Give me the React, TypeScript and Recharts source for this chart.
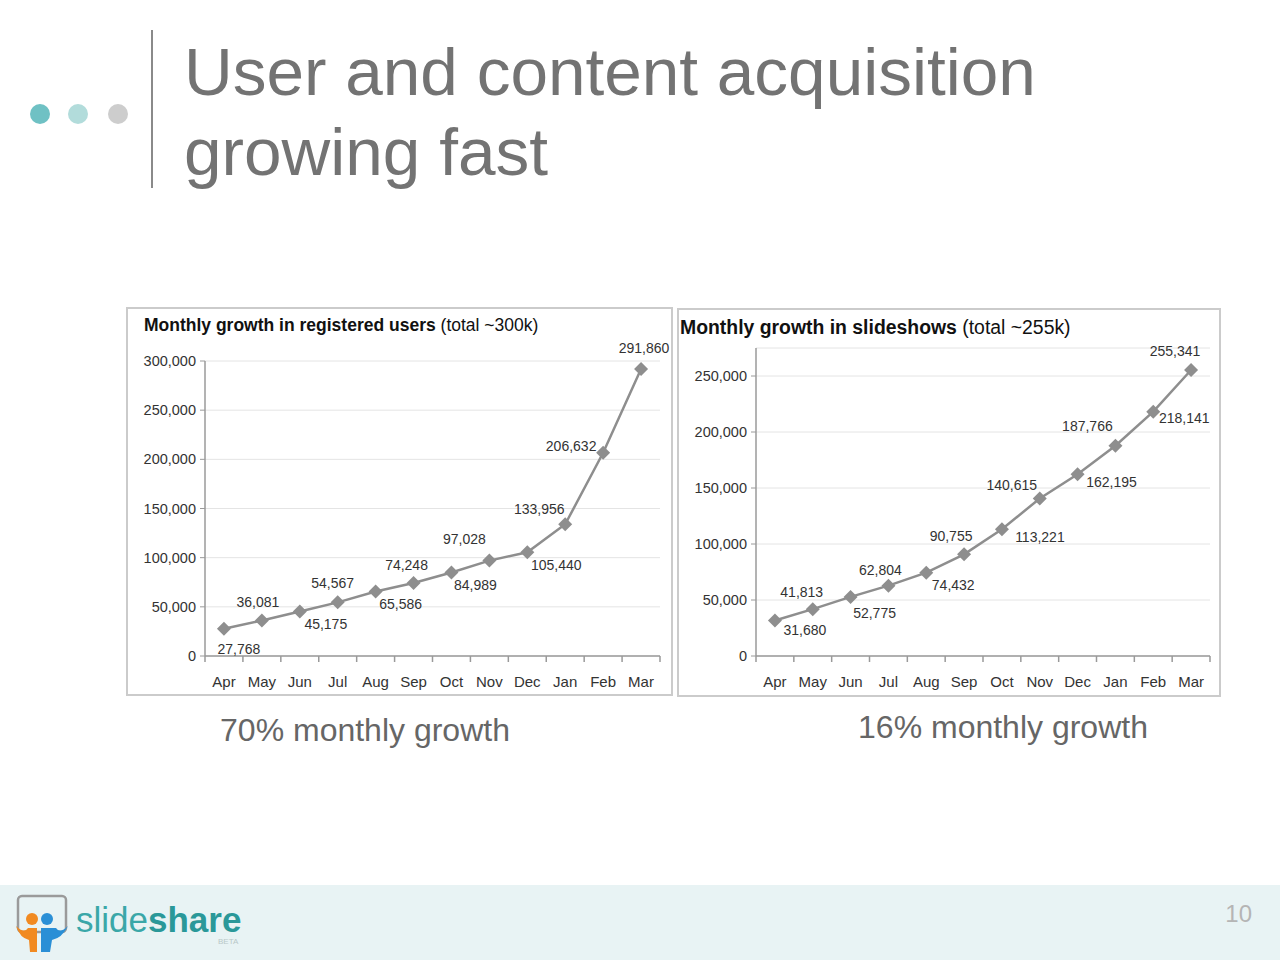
import React from 'react'
import { LineChart, Line, XAxis, YAxis, CartesianGrid, LabelList } from 'recharts'

const months = ['Apr', 'May', 'Jun', 'Jul', 'Aug', 'Sep', 'Oct', 'Nov', 'Dec', 'Jan', 'Feb', 'Mar']
const userGrowth = [27768, 36081, 45175, 54567, 65586, 74248, 84989, 97028, 105440, 133956, 206632, 291860]
const slideGrowth = [31680, 41813, 52775, 62804, 74432, 90755, 113221, 140615, 162195, 187766, 218141, 255341]
const userTicks = [0, 50000, 100000, 150000, 200000, 250000, 300000]
const slideTicks = [0, 50000, 100000, 150000, 200000, 250000]

// label placement relative to each point (dx, dy)
const userLabelOffsets = [[15, 20], [-4, -19], [26, 12], [-5, -19], [25, 12], [-7, -18], [24, 13], [-25, -22], [29, 13], [-26, -15], [-32, -7], [3, -21]]
const slideLabelOffsets = [[30, 9], [-11, -17], [24, 16], [-8, -16], [27, 12], [-13, -18], [38, 8], [-28, -14], [34, 8], [-28, -20], [31, 6], [-16, -19]]

const usersData = months.map((m, i) => ({ month: m, value: userGrowth[i] }))
const slidesData = months.map((m, i) => ({ month: m, value: slideGrowth[i] }))

const FONT = '"Liberation Sans", Arial, sans-serif'
const LINE = '#8e8e8e'
const AXIS = '#9a9a9a'
const fmt = (v: number) => v.toLocaleString('en-US')

const Diamond = (props: any) => {
  const { cx, cy } = props
  if (cx == null || cy == null) return null
  const r = 7
  return <path d={`M${cx},${cy - r}L${cx + r},${cy}L${cx},${cy + r}L${cx - r},${cy}Z`} fill={LINE} />
}

const makeTick = (bw: number) => (props: any) => {
  const { x, y, payload, index } = props
  return (
    <g>
      <line x1={x - bw / 2} x2={x - bw / 2} y1={y} y2={y + 6} stroke={AXIS} strokeWidth={1.5} />
      {index === months.length - 1 && (
        <line x1={x + bw / 2} x2={x + bw / 2} y1={y} y2={y + 6} stroke={AXIS} strokeWidth={1.5} />
      )}
      <text x={x} y={y + 25} textAnchor="middle" dominantBaseline="central" fontSize={15} fill="#333" fontFamily={FONT}>
        {payload.value}
      </text>
    </g>
  )
}

const makeLabel = (offsets: number[][]) => (props: any) => {
  const { x, y, value, index } = props
  const [dx, dy] = offsets[index] || [0, -15]
  return (
    <text x={x + dx} y={y + dy} textAnchor="middle" dominantBaseline="central" fontSize={14} fill="#333" fontFamily={FONT}>
      {fmt(value)}
    </text>
  )
}

const GrowthChart: React.FC<{
  data: { month: string; value: number }[]
  width: number; height: number
  yWidth: number; top: number; right: number; bottom: number
  domainMax: number; ticks: number[]; offsets: number[][]
}> = ({ data, width, height, yWidth, top, right, bottom, domainMax, ticks, offsets }) => {
  const bw = (width - yWidth - right) / months.length
  return (
    <LineChart width={width} height={height} data={data} margin={{ top, right, bottom: 0, left: 0 }}
      style={{ overflow: 'visible' }}>
      <CartesianGrid vertical={false} stroke="#e4e4e4" />
      <XAxis dataKey="month" height={bottom} tickSize={0} tickMargin={0} tickLine={false}
        padding={{ left: bw / 2, right: bw / 2 }}
        axisLine={{ stroke: AXIS, strokeWidth: 1.5 }} tick={makeTick(bw)} interval={0} />
      <YAxis width={yWidth} domain={[0, domainMax]} ticks={ticks} tickFormatter={fmt} tickSize={5} tickMargin={4}
        axisLine={{ stroke: AXIS, strokeWidth: 1.5 }} tickLine={{ stroke: AXIS }}
        tick={{ fontSize: 14.5, fill: '#333', fontFamily: FONT }} allowDataOverflow />
      <Line dataKey="value" stroke={LINE} strokeWidth={2.5} dot={<Diamond />} activeDot={false} isAnimationActive={false}>
        <LabelList dataKey="value" content={makeLabel(offsets)} />
      </Line>
    </LineChart>
  )
}

const Logo = () => (
  <g>
    <rect x={18} y={896} width={48} height={36} rx={4} fill="none" stroke="#9a9a9a" strokeWidth={2.5} />
    <circle cx={32} cy={919} r={6} fill="#f18a21" />
    <circle cx={47} cy={919} r={6} fill="#2a8fd6" />
    <path d="M16,926 Q24,934 28,928 L37,928 L37,952 L30,952 L29,940 Q20,938 16,926 Z" fill="#f18a21" />
    <path d="M68,926 Q60,934 56,928 L41,928 L41,952 L50,952 L52,940 Q62,938 68,926 Z" fill="#2a8fd6" />
    <text x={76} y={932} fontSize={35} fontFamily={FONT} fill="#3aa7a8">
      slide<tspan fontWeight="bold" fill="#2a9899">share</tspan>
    </text>
    <text x={218} y={944} fontSize={8} fontFamily={FONT} fill="#b8c8c8">BETA</text>
  </g>
)

export default function App() {
  return (
    <div style={{ position: 'absolute', left: 0, top: 0, width: 1280, height: 960, background: '#fff', fontFamily: FONT }}>
      <svg width={1280} height={960} style={{ position: 'absolute', left: 0, top: 0 }}>
        <circle cx={40} cy={114} r={10} fill="#6fc1c4" />
        <circle cx={78} cy={114} r={10} fill="#b2dcdb" />
        <circle cx={118} cy={114} r={10} fill="#cdcdcd" />
        <line x1={152} x2={152} y1={30} y2={188} stroke="#8a8a8a" strokeWidth={2} />
        <text x={184} y={95} fontSize={67.5} fill="#737373" fontFamily={FONT}>User and content acquisition</text>
        <text x={184} y={175} fontSize={67.5} fill="#737373" fontFamily={FONT}>growing fast</text>

        <rect x={127} y={308} width={545} height={387} fill="none" stroke="#cbcbcb" strokeWidth={2} />
        <rect x={678} y={309} width={542} height={387} fill="none" stroke="#cbcbcb" strokeWidth={2} />
        <text x={144} y={331} fontSize={17.5} fill="#111" fontFamily={FONT}>
          <tspan fontWeight="bold">Monthly growth in registered users</tspan> (total ~300k)
        </text>
        <text x={680} y={334} fontSize={19.4} fill="#111" fontFamily={FONT}>
          <tspan fontWeight="bold">Monthly growth in slideshows</tspan> (total ~255k)
        </text>

        <text x={365} y={741} textAnchor="middle" fontSize={32} fill="#666" fontFamily={FONT}>70% monthly growth</text>
        <text x={1003} y={738} textAnchor="middle" fontSize={32} fill="#666" fontFamily={FONT}>16% monthly growth</text>

        <rect x={0} y={885} width={1280} height={75} fill="#e8f3f4" />
        <Logo />
        <text x={1252} y={922} textAnchor="end" fontSize={24} fill="#b5b5b5" fontFamily={FONT}>10</text>
      </svg>

      <div style={{ position: 'absolute', left: 126, top: 307 }}>
        <GrowthChart data={usersData} width={546} height={388} yWidth={79} top={54} right={12} bottom={39}
          domainMax={300000} ticks={userTicks} offsets={userLabelOffsets} />
      </div>
      <div style={{ position: 'absolute', left: 677, top: 308 }}>
        <GrowthChart data={slidesData} width={543} height={388} yWidth={79} top={40} right={10} bottom={40}
          domainMax={275000} ticks={slideTicks} offsets={slideLabelOffsets} />
      </div>
    </div>
  )
}
